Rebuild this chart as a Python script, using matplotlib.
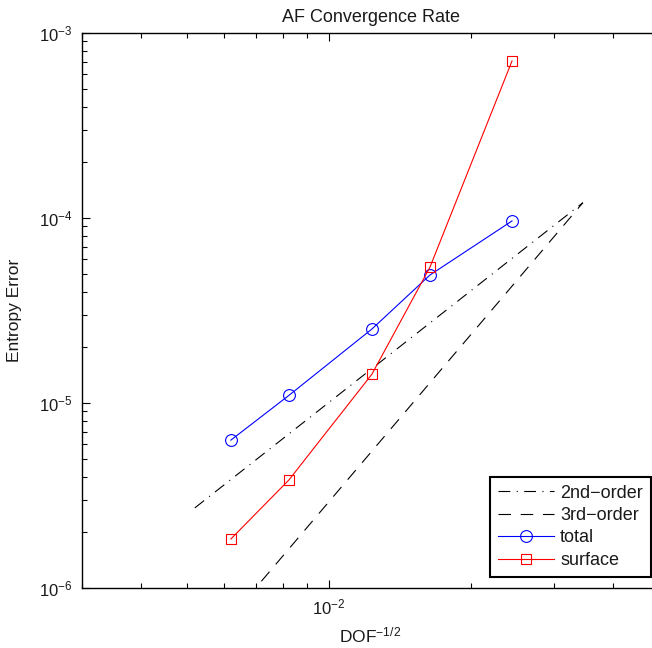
import matplotlib
matplotlib.use("Agg")
import matplotlib.pyplot as plt
from matplotlib.ticker import LogLocator, NullFormatter

plt.rcParams['font.family'] = ['Liberation Sans', 'DejaVu Sans']
plt.rcParams['mathtext.default'] = 'regular'
plt.rcParams['mathtext.fontset'] = 'custom'
plt.rcParams['mathtext.rm'] = 'Liberation Sans'
plt.rcParams['lines.scale_dashes'] = False

# Mesh size measure and entropy error
dof_h = [0.00620, 0.00823, 0.01233, 0.01637, 0.02442]
err_total = [6.3e-6, 1.10e-5, 2.51e-5, 4.92e-5, 9.64e-5]
err_surface = [1.84e-6, 3.84e-6, 1.43e-5, 5.43e-5, 7.06e-4]

# Reference slopes
ref_x = [0.0052, 0.0345]
ref_2nd = [2.71e-6, 1.21e-4]
ref_3rd = [4.1e-7, 1.21e-4]

W, H = 652, 648
fig = plt.figure(figsize=(W / 100, H / 100), dpi=100)
ax = fig.add_axes([82 / W, (H - 588) / H, 577 / W, 555 / H])

txt = '#1a1a1a'
lw = 0.8
ax.plot(ref_x, ref_2nd, color='black', lw=lw, dashes=(8.5, 4.6, 0.8, 4.6),
        label='2nd\u2212order')
ax.plot(ref_x, ref_3rd, color='black', lw=lw, dashes=(9, 7),
        label='3rd\u2212order')
ax.plot(dof_h, err_total, color='#0000ff', lw=lw, marker='o', ms=8.5,
        mfc='none', mec='#0000ff', mew=lw, label='total')
ax.plot(dof_h, err_surface, color='#ff0000', lw=lw, marker='s', ms=7,
        mfc='none', mec='#ff0000', mew=lw, label='surface')

ax.set_xscale('log')
ax.set_yscale('log')
ax.set_xlim(0.003, 0.05)
ax.set_ylim(1e-6, 1e-3)

ax.xaxis.set_major_locator(LogLocator(base=10, numticks=10))
ax.xaxis.set_minor_locator(LogLocator(base=10, subs=range(2, 10), numticks=20))
ax.xaxis.set_minor_formatter(NullFormatter())
ax.yaxis.set_minor_locator(LogLocator(base=10, subs=range(2, 10), numticks=20))
ax.yaxis.set_minor_formatter(NullFormatter())

ax.tick_params(which='both', direction='in', top=True, right=False,
               labelsize=12, labelcolor=txt, width=0.8)
ax.tick_params(which='major', length=6, pad=7)
ax.tick_params(which='minor', length=3.5)
for s in ax.spines.values():
    s.set_linewidth(1.0)

ax.set_title('AF Convergence Rate', fontsize=13, color=txt, pad=8)
ax.set_xlabel('DOF$^{-1/2}$', fontsize=12.5, color=txt, labelpad=6)
ax.set_ylabel('Entropy Error', fontsize=12.5, color=txt, labelpad=12)

leg = ax.legend(loc='lower right', bbox_to_anchor=(651 / W, (H - 577) / H),
                bbox_transform=fig.transFigure, borderaxespad=0,
                fancybox=False, framealpha=1, edgecolor='black',
                fontsize=13, handlelength=3.1, handletextpad=0.35,
                labelspacing=0.3, borderpad=0.45, labelcolor=txt)
leg.get_frame().set_linewidth(1.5)

fig.savefig('out.png', dpi=100)
